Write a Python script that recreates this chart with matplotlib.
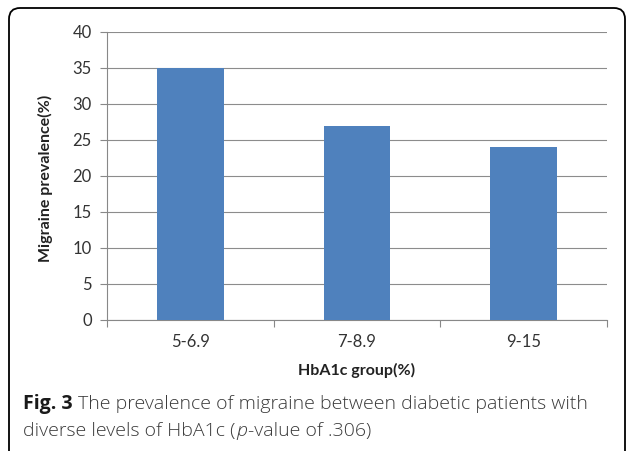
import matplotlib
matplotlib.use('Agg')
import matplotlib.pyplot as plt
from matplotlib.patches import FancyBboxPatch

# HbA1c groups and migraine prevalence (%)
groups = ['5-6.9', '7-8.9', '9-15']
prevalence = [35, 27, 24]
y_ticks = [0, 5, 10, 15, 20, 25, 30, 35, 40]

W, H = 627, 451
fig = plt.figure(figsize=(W / 100, H / 100), dpi=100)

# rounded frame around chart + caption (bottom edge runs off the page)
frame = FancyBboxPatch((9 / 100, -30 / 100), 616 / 100, (H - 8 + 30) / 100,
                       boxstyle='round,pad=0,rounding_size=0.11',
                       transform=fig.dpi_scale_trans, fill=False,
                       edgecolor='black', linewidth=1.3, clip_on=False)
fig.patches.append(frame)

ax = fig.add_axes([107 / W, (H - 320) / H, 500 / W, 288 / H])
x = range(len(groups))
ax.bar(x, prevalence, width=0.4, color='#4F81BD', zorder=3)

ax.set_xlim(-0.5, 2.5)
ax.set_ylim(0, 40)
ax.set_yticks(y_ticks)
ax.set_xticks(list(x))
ax.set_xticklabels(groups)
ax.set_xticks([-0.5, 0.5, 1.5, 2.5], minor=True)

chart_font = 'Lato'
for lab in ax.get_xticklabels() + ax.get_yticklabels():
    lab.set_fontfamily(chart_font)
    lab.set_fontsize(12)
    lab.set_color('#333333')

ax.tick_params(axis='x', which='major', length=0, pad=10)
ax.tick_params(axis='x', which='minor', length=5, color='#888888', width=0.8)
ax.tick_params(axis='y', length=5, color='#888888', width=0.8, pad=6)

ax.grid(axis='y', color='#8c8c8c', linewidth=0.8, zorder=0)
for s in ['top', 'right']:
    ax.spines[s].set_visible(False)
for s in ['left', 'bottom']:
    ax.spines[s].set_color('#888888')
    ax.spines[s].set_linewidth(0.8)

fig.text(357 / W, 1 - 370 / H, 'HbA1c group(%)', ha='center', va='center',
         fontfamily=chart_font, fontweight='bold', fontsize=11.5, color='#222222')
fig.text(45 / W, 1 - 178 / H, 'Migraine prevalence(%)', ha='center', va='center',
         rotation=90, fontfamily=chart_font, fontweight='bold', fontsize=11.5,
         color='#222222')

# caption, built piece by piece so bold / italic runs sit inline
cap_font = 'Open Sans'
cap_size = 14
cap_color = '#3a3a3a'


def run(x_px, y_px, s, **kw):
    opts = dict(ha='left', va='baseline', fontfamily=cap_font,
                fontsize=cap_size, color=cap_color, fontweight='light')
    opts.update(kw)
    t = fig.text(x_px / W, 1 - y_px / H, s, **opts)
    fig.canvas.draw()
    return t.get_window_extent().x1


end = run(23, 409, 'Fig. 3', fontweight='bold', color='#1a1a1a')
run(end + 5, 409, 'The prevalence of migraine between diabetic patients with')
end = run(23, 436, 'diverse levels of HbA1c (')
end = run(end + 1, 436, 'p', fontstyle='italic')
run(end + 1, 436, '-value of .306)')

fig.savefig('out.png', dpi=100)
